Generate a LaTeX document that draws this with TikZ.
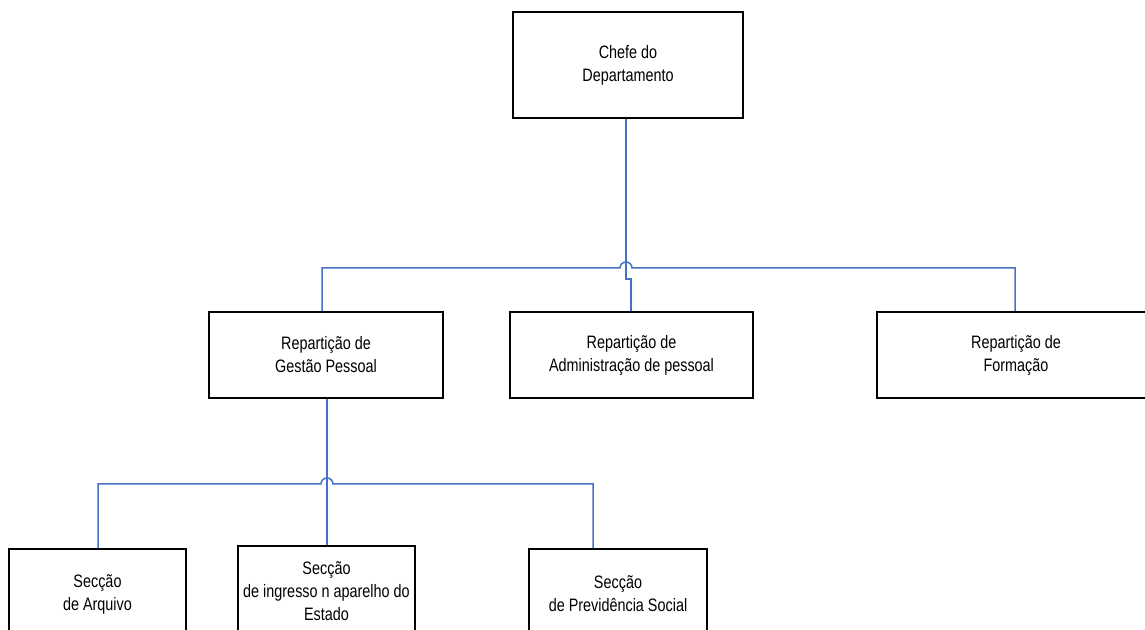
\documentclass[tikz,border=0pt]{standalone}
\usepackage{fontspec}
\setmainfont{Liberation Sans}[FakeStretch=0.8]
\begin{document}
\begin{tikzpicture}[x=1pt,y=1pt,
  box/.style={draw=black,line width=1.6pt,fill=white,align=center,inner sep=0pt,
    font=\fontsize{18}{23}\selectfont},
  conn/.style={draw={rgb,255:red,68;green,114;blue,196},line width=1.5pt}]
\useasboundingbox[fill=white] (0,0) rectangle (1145,629);
% nodes
\node[box,minimum width=230,minimum height=106] (top) at (628,564) {Chefe do\\Departamento};
\node[box,minimum width=234,minimum height=86] (gp) at (326,274) {Repartição de\\Gestão Pessoal};
\node[box,minimum width=243,minimum height=86] (adm) at (631.5,274) {Repartição de\\Administração de pessoal};
\node[box,minimum width=278,minimum height=86] (form) at (1016,274) {Repartição de\\Formação};
\node[box,minimum width=177,minimum height=90] (s1) at (97.5,35) {Secção\\de Arquivo};
\node[box,minimum width=177,minimum height=90] (s2) at (326.5,38) {Secção\\de ingresso n aparelho do\\Estado};
\node[box,minimum width=178,minimum height=90] (s3) at (618,35) {Secção\\de Previdência Social};
% coordinates
\coordinate (j1) at (626,350);
\coordinate (j2) at (631,350);
\coordinate (h1) at (322,361);
\coordinate (h2) at (1015,361);
\coordinate (v2) at (327,145);
\coordinate (b1) at (98,145);
\coordinate (b3) at (593,145);
% connectors
\draw[conn] (top.south -| j1) -- (j1) -- (j2) -- (adm.north -| j2);
\draw[conn] (gp.north -| h1) -- (h1) -- (620,361) arc[start angle=180,end angle=0,radius=6] -- (h2) -- (form.north -| h2);
\draw[conn] (gp.south -| v2) -- (s2.north -| v2);
\draw[conn] (s1.north -| b1) -- (b1) -- (321,145) arc[start angle=180,end angle=0,radius=6] -- (b3) -- (s3.north -| b3);
\end{tikzpicture}
\end{document}
